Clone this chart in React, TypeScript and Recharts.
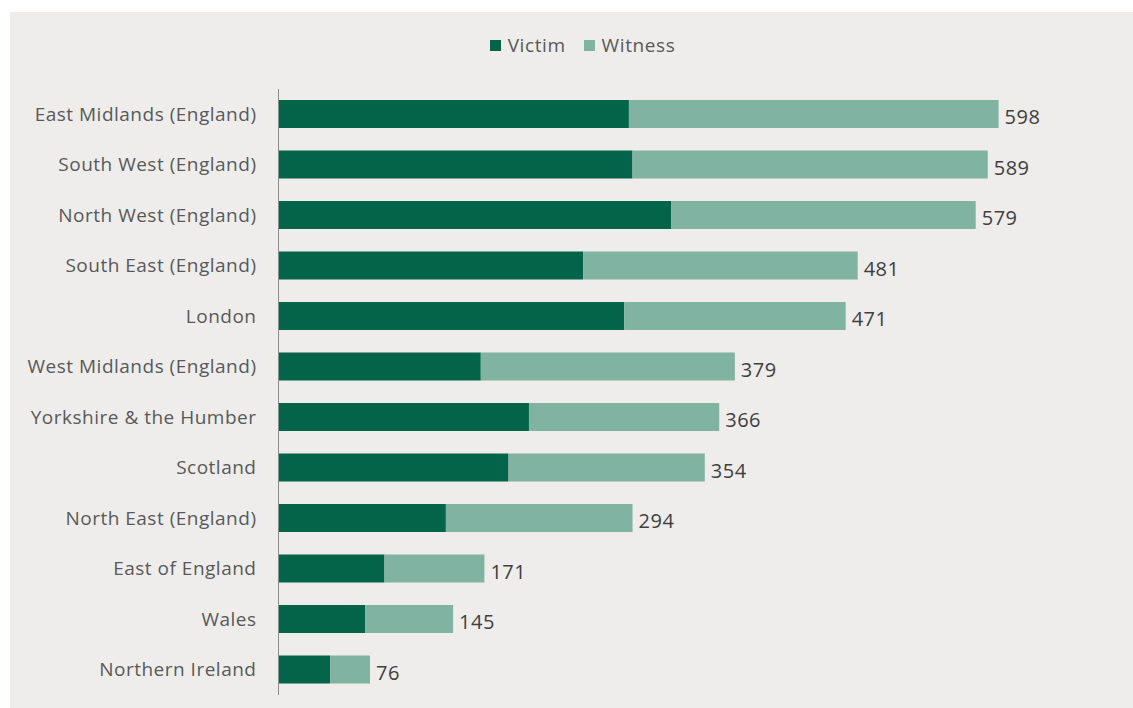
import { Bar, BarChart, LabelList, Legend, XAxis, YAxis } from "recharts";

const regions = [
  "East Midlands (England)",
  "South West (England)",
  "North West (England)",
  "South East (England)",
  "London",
  "West Midlands (England)",
  "Yorkshire & the Humber",
  "Scotland",
  "North East (England)",
  "East of England",
  "Wales",
  "Northern Ireland",
];
const totals = [598, 589, 579, 481, 471, 379, 366, 354, 294, 171, 145, 76];
const victim = [291, 294, 326, 253, 287, 168, 208, 191, 139, 88, 72, 43];

const data = regions.map((region, i) => ({
  region,
  victim: victim[i],
  witness: totals[i] - victim[i],
  total: totals[i],
}));

const FONT = "'Open Sans', 'Noto Sans', sans-serif";

function LegendRow({ payload }: any) {
  return (
    <div style={{ display: "flex", justifyContent: "center", gap: 18, paddingTop: 8, paddingLeft: 36, fontFamily: FONT, fontSize: 19, letterSpacing: 0.6, color: "#595959" }}>
      {(payload || []).map((p: any) => (
        <div key={p.value} style={{ display: "flex", alignItems: "center", gap: 7 }}>
          <span style={{ width: 11, height: 11, background: p.color, display: "inline-block" }} />
          <span>{p.value}</span>
        </div>
      ))}
    </div>
  );
}

export default function App() {
  return (
    <div style={{ position: "absolute", left: 10, top: 12, width: 1123, height: 696, background: "#EEEDEB" }}>
      <BarChart
        width={1123}
        height={696}
        layout="vertical"
        data={data}
        margin={{ top: 12, right: 14, bottom: 13, left: 0 }}
      >
        <Legend verticalAlign="top" height={65} content={<LegendRow />} />
        <XAxis type="number" domain={[0, 698]} hide />
        <YAxis
          type="category"
          dataKey="region"
          width={268.5}
          tickLine={false}
          tickSize={0}
          tickMargin={22}
          axisLine={{ stroke: "#8C8C8C" }}
          tick={{ fontFamily: FONT, fontSize: 19, letterSpacing: 0.5, fill: "#595959" }}
        />
        <Bar dataKey="victim" name="Victim" stackId="a" fill="#03644A" barSize={28} isAnimationActive={false} />
        <Bar dataKey="witness" name="Witness" stackId="a" fill="#80B3A2" barSize={28} isAnimationActive={false}>
          <LabelList
            dataKey="total"
            position="right"
            offset={6}
            dy={3}
            style={{ fontFamily: FONT, fontSize: 20, letterSpacing: 0.5, fill: "#404040" }}
          />
        </Bar>
      </BarChart>
    </div>
  );
}
